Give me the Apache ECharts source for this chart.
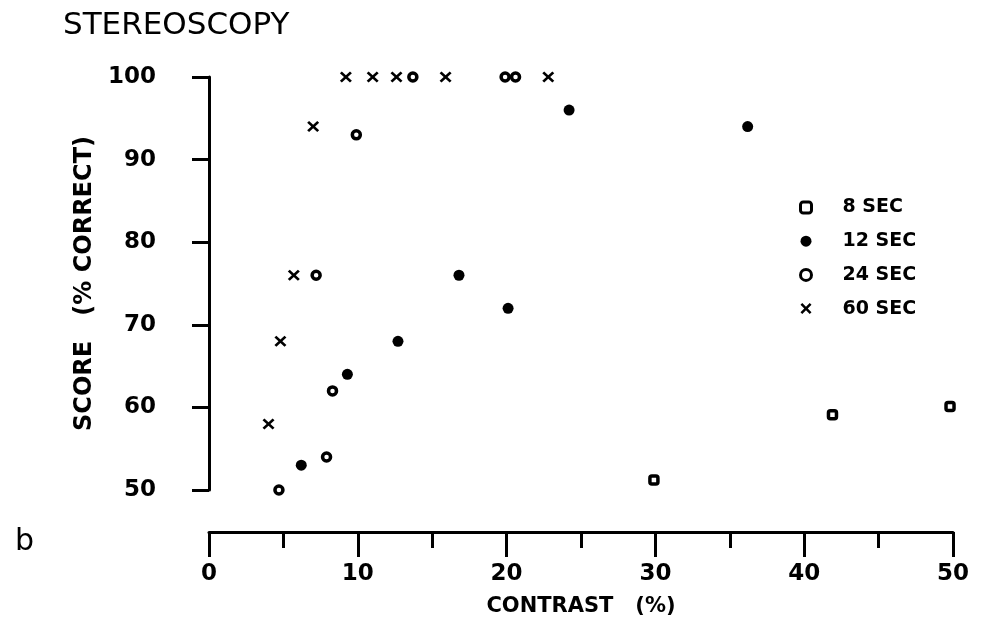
<!DOCTYPE html>
<html>
<head>
<meta charset="utf-8">
<script src="https://cdn.jsdelivr.net/npm/echarts@6/dist/echarts.min.js"></script>
<style>
  html, body { margin: 0; padding: 0; background: #fff; }
  #chart { width: 987px; height: 628px; }
</style>
</head>
<body>
<div id="chart"></div>
<script>
// contrast (%) / score (% correct)
const sec8 = [[29.9, 51.2], [41.9, 59.1], [49.8, 60.1]]
const sec12 = [[6.2, 53], [9.3, 64], [12.7, 68], [16.8, 76], [20.1, 72], [24.2, 96], [36.2, 94]]
const sec24 = [[4.7, 50], [7.9, 54], [8.3, 62], [7.2, 76], [9.9, 93], [13.7, 100], [19.9, 100], [20.6, 100]]
const sec60 = [[4.0, 58], [4.8, 68], [5.7, 76], [7.0, 94], [9.2, 100], [11.0, 100], [12.6, 100], [15.9, 100], [22.8, 100]]
const seriesNames = ['8 SEC', '12 SEC', '24 SEC', '60 SEC']

const ink = '#000'
const bold = { color: ink, fontFamily: 'DejaVu Sans', fontWeight: 'bold' }
const crossPath = 'path://M0,1.6 L1.6,0 L5,3.4 L8.4,0 L10,1.6 L6.6,5 L10,8.4 L8.4,10 L5,6.6 L1.6,10 L0,8.4 L3.4,5 Z'

const chart = echarts.init(document.getElementById('chart'))

chart.setOption({
  backgroundColor: '#fff',
  animation: false,
  title: [
    { text: 'STEREOSCOPY', left: 58, top: 5, textStyle: { color: ink, fontFamily: 'DejaVu Sans', fontWeight: 'normal', fontSize: 31 } },
    { text: 'b', left: 10, top: 522, textStyle: { color: ink, fontFamily: 'DejaVu Sans', fontWeight: 'normal', fontSize: 30 } }
  ],
  legend: {
    orient: 'vertical',
    left: 794,
    top: 192,
    itemWidth: 11,
    itemHeight: 11,
    itemGap: 12.7,
    data: [
      { name: seriesNames[0], itemStyle: { borderWidth: 3 } },
      { name: seriesNames[1] },
      { name: seriesNames[2], itemStyle: { borderWidth: 3 } },
      { name: seriesNames[3] }
    ],
    textStyle: Object.assign({}, bold, { fontSize: 19, lineHeight: 21, padding: [0, 0, 0, 26] })
  },
  grid: { left: 209, right: 34, top: 77, bottom: 138 },
  xAxis: {
    type: 'value',
    min: 0,
    max: 50,
    interval: 10,
    offset: 42,
    name: 'CONTRAST   (%)',
    nameLocation: 'middle',
    nameGap: 64,
    nameTextStyle: Object.assign({}, bold, { fontSize: 21 }),
    axisLine: { show: true, lineStyle: { color: ink, width: 3 } },
    axisTick: { show: true, length: 25, lineStyle: { color: ink, width: 3 } },
    minorTick: { show: true, splitNumber: 2, length: 16, lineStyle: { color: ink, width: 3 } },
    splitLine: { show: false },
    axisLabel: Object.assign({}, bold, { fontSize: 23, margin: 31 })
  },
  yAxis: {
    type: 'value',
    min: 50,
    max: 100,
    interval: 10,
    offset: 32,
    name: 'SCORE   (% CORRECT)',
    nameLocation: 'middle',
    nameGap: 78,
    nameTextStyle: Object.assign({}, bold, { fontSize: 24 }),
    axisLine: { show: true, lineStyle: { color: ink, width: 3 } },
    axisTick: { show: true, length: 17, lineStyle: { color: ink, width: 3 } },
    splitLine: { show: false },
    axisLabel: Object.assign({}, bold, { fontSize: 23, margin: 21 })
  },
  series: [
    {
      name: seriesNames[0], type: 'scatter', data: sec8, clip: false,
      symbol: 'roundRect', symbolSize: 8,
      itemStyle: { color: '#fff', borderColor: ink, borderWidth: 3.5, opacity: 1 }
    },
    {
      name: seriesNames[1], type: 'scatter', data: sec12, clip: false,
      symbol: 'circle', symbolSize: 11,
      itemStyle: { color: ink, opacity: 1 }
    },
    {
      name: seriesNames[2], type: 'scatter', data: sec24, clip: false,
      symbol: 'circle', symbolSize: 8,
      itemStyle: { color: '#fff', borderColor: ink, borderWidth: 3.5, opacity: 1 }
    },
    {
      name: seriesNames[3], type: 'scatter', data: sec60, clip: false,
      symbol: crossPath, symbolSize: [12, 11],
      itemStyle: { color: ink, opacity: 1 }
    }
  ]
})
</script>
</body>
</html>
